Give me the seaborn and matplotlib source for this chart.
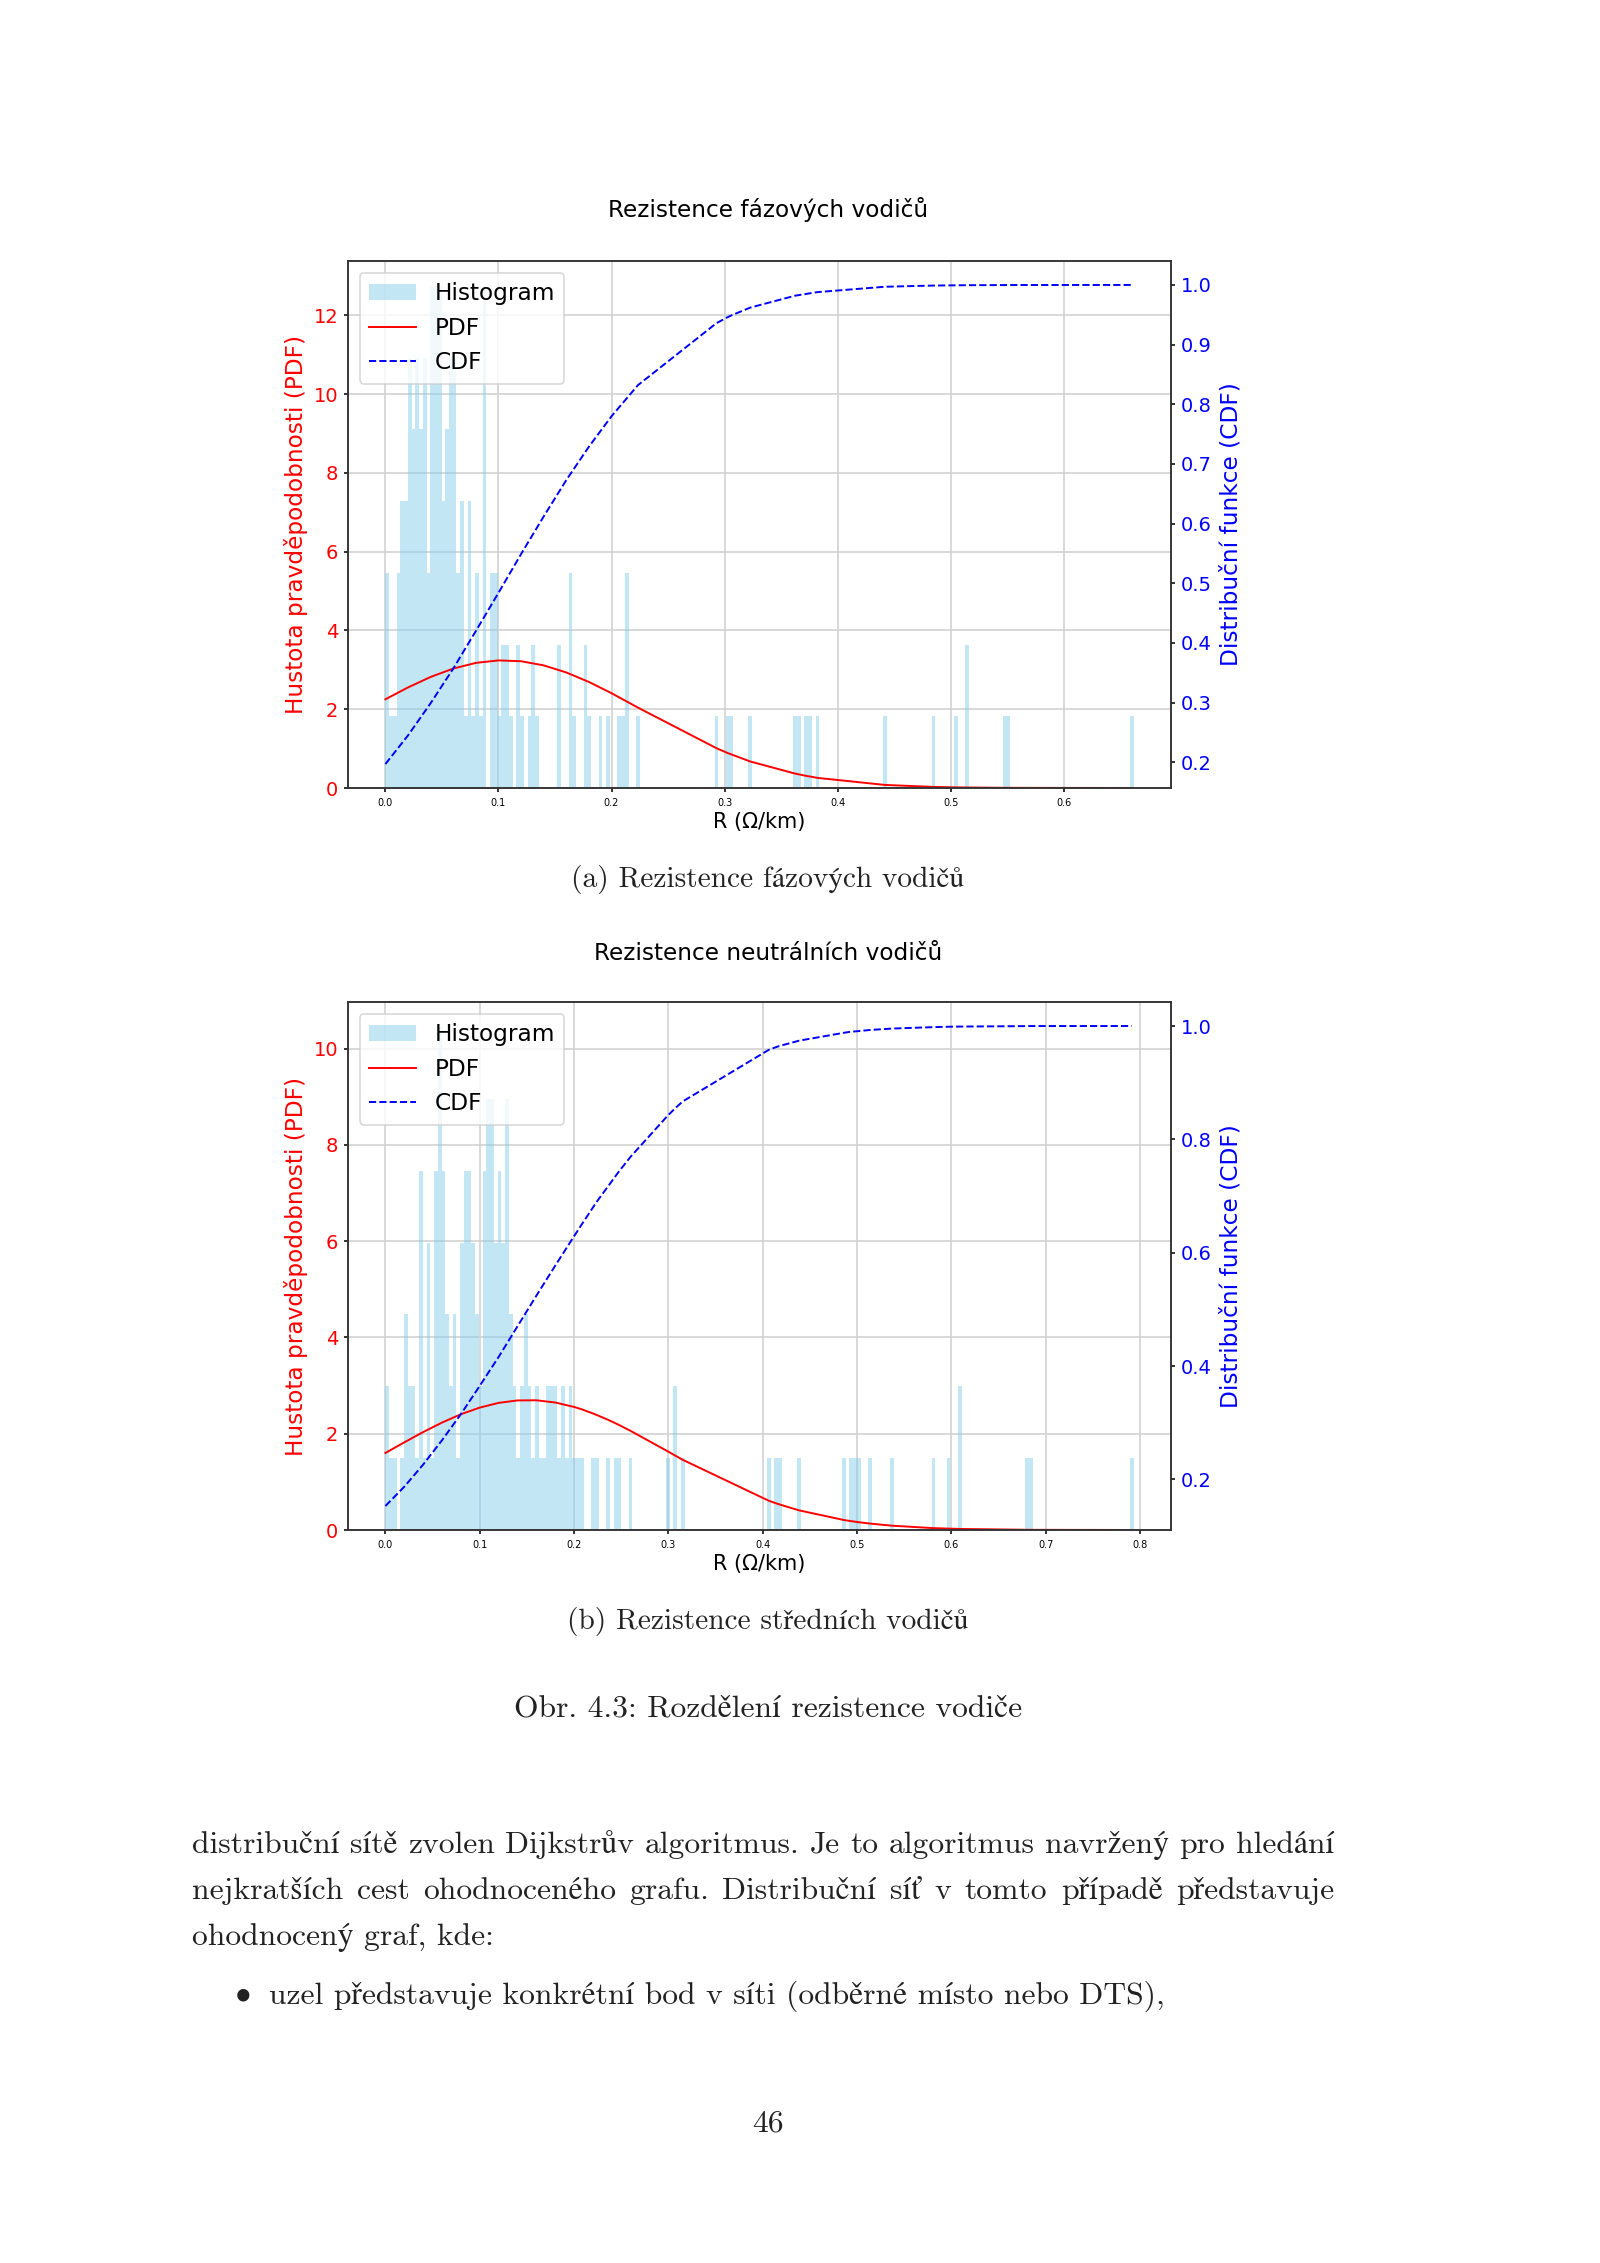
import numpy as np
import pandas as pd
import matplotlib
matplotlib.use("Agg")
import matplotlib.pyplot as plt
import seaborn as sns
from matplotlib.patches import Patch
from matplotlib.lines import Line2D

# ---- data ----
# histogram: counts per bin (200 bins from 0 to max), dense head + sparse tail
n_bins = 200

faz_xmax = 0.6617
faz_head = [3, 1, 1, 3, 4, 4, 6, 5, 6, 5, 6, 3, 7, 7, 7, 4, 5, 6, 6, 3,
            4, 1, 4, 1, 3, 1, 7, 0, 3, 3, 1, 2, 2, 1, 0, 2, 1, 0, 1, 2,
            1, 0, 0, 0, 0, 0, 2, 0, 0, 3, 1, 0, 0, 2, 1, 0, 0, 1, 0, 1,
            0, 0, 1, 1, 3, 0, 0, 1]
faz_tail_bins = [88, 91, 92, 97, 109, 110, 112, 113, 115, 133, 146, 152, 155, 165, 166, 199]
faz_tail_counts = [1, 1, 1, 1, 1, 1, 1, 1, 1, 1, 1, 1, 2, 1, 1, 1]

faz_x = [0.0, 0.02, 0.04, 0.06, 0.08, 0.10, 0.12, 0.14, 0.16, 0.18, 0.20, 0.2233,
         0.2928, 0.3027, 0.3060, 0.3226, 0.3623, 0.3656, 0.3722, 0.3755, 0.3821,
         0.4417, 0.4847, 0.5045, 0.5145, 0.5476, 0.5509, 0.6601]
faz_pdf = [2.253, 2.554, 2.820, 3.033, 3.177, 3.240, 3.219, 3.114, 2.934, 2.693, 2.407, 2.042,
           1.011, 0.888, 0.853, 0.674, 0.366, 0.347, 0.307, 0.292, 0.257,
           0.078, 0.028, 0.016, 0.013, 0.005, 0.0045, 0.0001]
faz_cdf = [0.197, 0.245, 0.299, 0.357, 0.420, 0.484, 0.549, 0.612, 0.673, 0.729, 0.780, 0.832,
           0.936, 0.946, 0.949, 0.962, 0.982, 0.983, 0.985, 0.986, 0.988,
           0.997, 0.999, 0.9994, 0.9996, 0.9998, 0.9999, 1.0]

neu_xmax = 0.7932
neu_head = [2, 1, 1, 0, 1, 3, 2, 2, 1, 5, 1, 4, 1, 5, 7, 5, 3, 2, 3, 1,
            4, 5, 5, 4, 3, 2, 5, 6, 6, 4, 5, 4, 6, 3, 2, 1, 2, 3, 2, 1,
            2, 1, 1, 2, 2, 2, 1, 2, 1, 2, 1, 1, 1]
neu_tail_bins = [55, 56, 59, 61, 62, 65, 75, 77, 79, 102, 104, 105, 110, 122, 124,
                 125, 126, 129, 135, 146, 150, 153, 171, 172, 199]
neu_tail_counts = [1, 1, 1, 1, 1, 1, 1, 2, 1, 1, 1, 1, 1, 1, 1,
                   1, 1, 1, 1, 1, 1, 2, 1, 1, 1]

neu_x = [0.0, 0.02, 0.04, 0.06, 0.08, 0.10, 0.12, 0.14, 0.16, 0.18, 0.20, 0.2082,
         0.2201, 0.2241, 0.2360, 0.2439, 0.2479, 0.2598, 0.2994, 0.3073, 0.3153,
         0.4065, 0.4145, 0.4184, 0.4383, 0.4859, 0.4938, 0.4978, 0.5017, 0.5136,
         0.5374, 0.5811, 0.5969, 0.6088, 0.6805, 0.6845, 0.7912]
neu_pdf = [1.600, 1.820, 2.034, 2.231, 2.404, 2.542, 2.640, 2.691, 2.694, 2.648, 2.556, 2.506,
           2.420, 2.388, 2.289, 2.217, 2.179, 2.060, 1.633, 1.545, 1.457,
           0.607, 0.552, 0.527, 0.409, 0.208, 0.184, 0.173, 0.162, 0.134,
           0.089, 0.039, 0.029, 0.022, 0.0044, 0.0040, 0.0002]
neu_cdf = [0.153, 0.187, 0.226, 0.269, 0.315, 0.365, 0.416, 0.470, 0.524, 0.577, 0.629, 0.650,
           0.680, 0.690, 0.717, 0.735, 0.744, 0.769, 0.842, 0.855, 0.867,
           0.958, 0.963, 0.965, 0.974, 0.988, 0.990, 0.9905, 0.991, 0.993,
           0.9955, 0.998, 0.9987, 0.999, 0.9998, 0.9999, 1.0]

titles = ["Rezistence fázových vodičů", "Rezistence neutrálních vodičů"]
captions = ["(a) Rezistence fázových vodičů", "(b) Rezistence středních vodičů"]
fig_caption = "Obr. 4.3: Rozdělení rezistence vodiče"
body_lines = [
    "distribuční sítě zvolen Dijkstrův algoritmus. Je to algoritmus navržený pro hledání",
    "nejkratších cest ohodnoceného grafu. Distribuční síť v tomto případě představuje",
    "ohodnocený graf, kde:",
]
bullet_text = "uzel představuje konkrétní bod v síti (odběrné místo nebo DTS),"
page_no = "46"

# ---- page ----
W, H = 1600, 2263
DPI = 200
plt.rcParams["font.family"] = ["DejaVu Sans"]
serif = ["cmr10", "STIXGeneral"]

fig = plt.figure(figsize=(W / DPI, H / DPI), dpi=DPI)
fig.patch.set_facecolor("white")

LW = 0.56
TICK = 1.55


def panel(rect, head, tail_bins, tail_counts, xmax, cx, pdf, cdf):
    ax = fig.add_axes(rect)
    counts = np.zeros(n_bins)
    counts[:len(head)] = head
    counts[tail_bins] = tail_counts
    width = xmax / n_bins
    df = pd.DataFrame({"R": (np.arange(n_bins) + 0.5) * width, "n": counts})
    sns.histplot(data=df, x="R", weights="n", bins=n_bins, binrange=(0, xmax),
                 stat="density", color="skyblue", alpha=0.5, linewidth=0, ax=ax)
    sns.lineplot(x=cx, y=pdf, color="red", lw=0.7, sort=False, estimator=None, ax=ax)
    ax.grid(True, color="#cfcfcf", lw=LW)
    ax.set_axisbelow(True)
    ax.set_xlabel("R (Ω/km)", fontsize=7.5, labelpad=1.5)
    ax.set_ylabel("Hustota pravděpodobnosti (PDF)", color="red", fontsize=8.4)
    ax.yaxis.set_label_coords(-0.0485, 0.5)
    ax.tick_params(axis="x", labelsize=3.5, length=TICK, width=LW, pad=2.0)
    ax.tick_params(axis="y", labelsize=7.0, labelcolor="red", length=TICK, width=LW, pad=2.0)

    ax2 = ax.twinx()
    sns.lineplot(x=cx, y=cdf, color="blue", lw=0.7, linestyle="--",
                 sort=False, estimator=None, ax=ax2)
    ax2.set_ylabel("Distribuční funkce (CDF)", color="blue", fontsize=8.4)
    ax2.yaxis.set_label_coords(1.0590, 0.5)
    ax2.tick_params(axis="y", labelsize=7.0, labelcolor="blue", length=TICK, width=LW, pad=2.0)
    for a in (ax, ax2):
        for s in a.spines.values():
            s.set_linewidth(LW)
            s.set_color("#333333")

    handles = [Patch(facecolor="skyblue", alpha=0.5, label="Histogram"),
               Line2D([], [], color="red", lw=0.7, label="PDF"),
               Line2D([], [], color="blue", lw=0.7, ls="--", label="CDF")]
    leg = ax2.legend(handles=handles, loc="upper left", fontsize=8.4)
    leg.get_frame().set_linewidth(LW)
    return ax, ax2


panel([348 / W, 1 - 788 / H, 823 / W, 527 / H], faz_head, faz_tail_bins, faz_tail_counts,
      faz_xmax, faz_x, faz_pdf, faz_cdf)
panel([348 / W, 1 - 1530 / H, 823 / W, 528 / H], neu_head, neu_tail_bins, neu_tail_counts,
      neu_xmax, neu_x, neu_pdf, neu_cdf)

cx = 768 / W
fig.text(cx, 1 - 209.5 / H, titles[0], ha="center", va="center", fontsize=8.4)
fig.text(cx, 1 - 954 / H, titles[1], ha="center", va="center", fontsize=8.4)

TXT = "#222222"
fig.text(cx, 1 - 879 / H, captions[0], ha="center", va="center", fontsize=10.6,
         family=serif, color=TXT)
fig.text(cx, 1 - 1622 / H, captions[1], ha="center", va="center", fontsize=10.6,
         family=serif, color=TXT)
fig.text(cx, 1 - 1709 / H, fig_caption, ha="center", va="center", fontsize=11.4,
         family=serif, color=TXT)

# body text, justified between the page margins
renderer = fig.canvas.get_renderer()
x_left, x_right = 192, 1334


def justified(line, y):
    words = line.split(" ")
    arts = [fig.text(0, y, w, ha="left", va="center", fontsize=11.4, family=serif, color=TXT)
            for w in words]
    widths = [a.get_window_extent(renderer).width for a in arts]
    gap = (x_right - x_left - sum(widths)) / (len(words) - 1)
    x = x_left
    for a, w in zip(arts, widths):
        a.set_x(x / W)
        x += w + gap


justified(body_lines[0], 1 - 1845 / H)
justified(body_lines[1], 1 - 1891 / H)
fig.text(x_left / W, 1 - 1938 / H, body_lines[2], ha="left", va="center", fontsize=11.4,
         family=serif, color=TXT)
fig.text(243 / W, 1 - 1996 / H, "•", ha="center", va="center", fontsize=11.4,
         family=["STIXGeneral", "DejaVu Serif"], color=TXT)
fig.text(269 / W, 1 - 1996 / H, bullet_text, ha="left", va="center", fontsize=11.4,
         family=serif, color=TXT)
fig.text(cx, 1 - 2124 / H, page_no, ha="center", va="center", fontsize=11.4,
         family=serif, color=TXT)

fig.savefig("out.png", dpi=DPI, facecolor="white")
